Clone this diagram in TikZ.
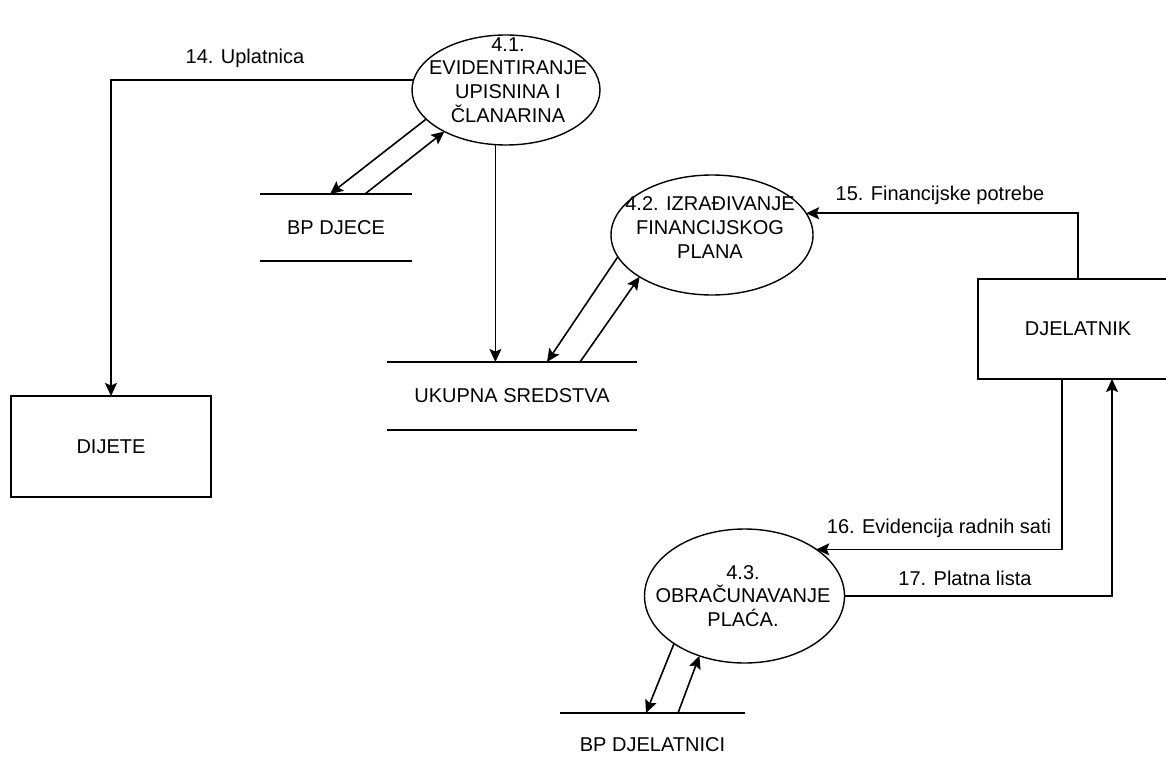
\documentclass[tikz,border=0pt]{standalone}
\usepackage{fontspec}
\setmainfont{Liberation Sans}
\usetikzlibrary{arrows.meta,shapes.geometric,calc}
\begin{document}
\begin{tikzpicture}[x=1pt,y=-1pt,
  every node/.style={font=\fontsize{20}{23.8}\selectfont, align=center, inner sep=0pt, outer sep=0pt},
  proc/.style={ellipse, draw, line width=1.4pt},
  ent/.style={rectangle, draw, line width=1.6pt},
  storebox/.style={inner sep=0pt},
  storeline/.style={line width=1.6pt},
  flow/.style={line width=1.6pt, -{Stealth[length=13pt,width=12pt,inset=2.5pt]}},
  link/.style={line width=1.6pt}]
\clip (0,0) rectangle (1166,778);
\useasboundingbox (0,0) rectangle (1166,778);

% processes
\node[proc, minimum width=188pt, minimum height=110pt] (e41) at (506,90) {};
\node (t41) at (508,80) {4.1.\\EVIDENTIRANJE\\UPISNINA I\\ČLANARINA};
\node[proc, minimum width=202pt, minimum height=120pt] (e42) at (712,235) {};
\node (t42) at (710,227.5) {4.2. IZRAĐIVANJE\\FINANCIJSKOG\\PLANA};
\node[proc, minimum width=200pt, minimum height=134pt] (e43) at (744.5,596) {};
\node (t43) at (743,596) {4.3.\\OBRAČUNAVANJE\\PLAĆA.};

% entities
\node[ent, minimum width=200pt, minimum height=101pt] (dijete) at (111,446.5) {DIJETE};
\node[ent, minimum width=200pt, minimum height=100pt] (djel) at (1078,329) {DJELATNIK};

% data stores
\node[storebox, minimum width=152pt, minimum height=67pt] (bpdjece) at (336,227.5) {BP DJECE};
\draw[storeline] (bpdjece.north west) -- (bpdjece.north east);
\draw[storeline] (bpdjece.south west) -- (bpdjece.south east);
\node[storebox, minimum width=250pt, minimum height=68pt] (ukupna) at (512,396) {UKUPNA SREDSTVA};
\draw[storeline] (ukupna.north west) -- (ukupna.north east);
\draw[storeline] (ukupna.south west) -- (ukupna.south east);
\node[storebox, minimum width=185pt, minimum height=64pt] (bpdjel) at (652.5,745) {BP DJELATNICI};
\draw[storeline] (bpdjel.north west) -- (bpdjel.north east);

% store attachment points
\coordinate (bd1) at ($(bpdjece.north west)+(70,0)$);
\coordinate (bd2) at ($(bpdjece.north west)+(105,0)$);
\coordinate (us0) at (e41.259 |- ukupna.north);
\coordinate (us1) at ($(ukupna.north west)+(160,0)$);
\coordinate (us2) at ($(ukupna.north west)+(193,0)$);
\coordinate (bj1) at ($(bpdjel.north west)+(86,0)$);
\coordinate (bj2) at ($(bpdjel.north west)+(118,0)$);
\coordinate (dj16) at ($(djel.south west)+(84,0)$);
\coordinate (dj17) at ($(djel.south west)+(134,0)$);

% flows
\draw[flow] (e41.174) -| (dijete.north);
\draw[flow] (e41.200) -- (bd1);
\draw[flow] (bd2) -- (e41.214);
\draw[flow] (e41.259) -- (us0);
\draw[flow] (e42.193) -- (us1);
\draw[flow] (us2) -- (e42.210);
\draw[flow] (djel.north) |- (e42.13);
\draw[flow] (dj16) |- (e43.33);
\draw[flow] (e43.east) -| (dj17);
\draw[flow] (e43.214) -- (bj1);
\draw[flow] (bj2) -- (e43.233);

% labels
\node (l14) at (245,58) {14. Uplatnica};
\node (l15) at (940,195) {15. Financijske potrebe};
\node (l16) at (939,528) {16. Evidencija radnih sati};
\node (l17) at (965,578) {17. Platna lista};
\end{tikzpicture}
\end{document}
